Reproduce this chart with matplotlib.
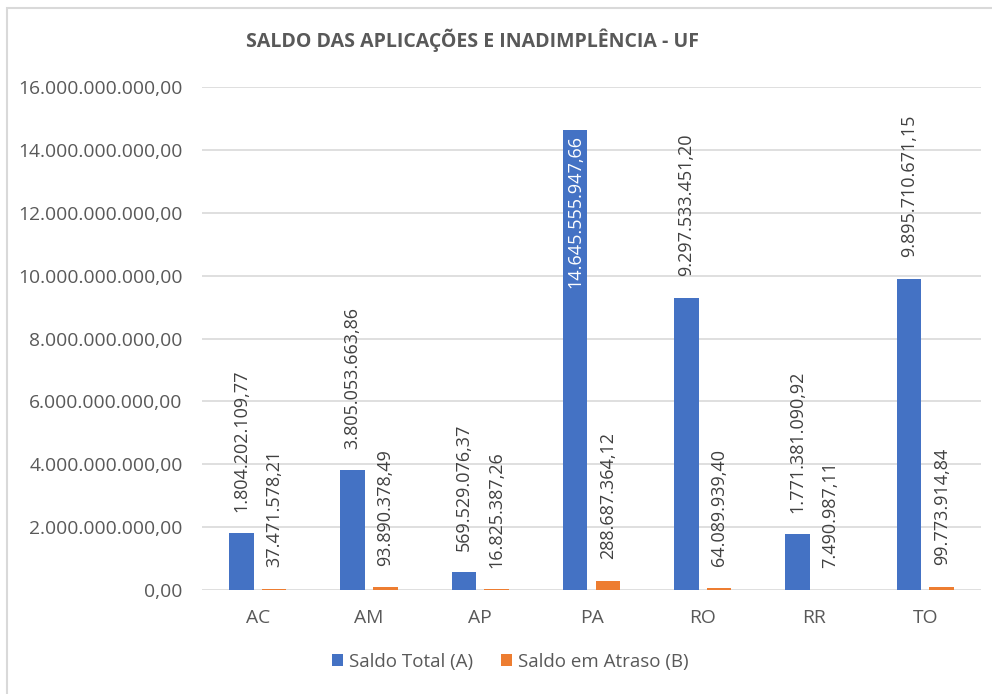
import numpy as np
import matplotlib.pyplot as plt
from matplotlib.patches import Rectangle

# dados do grafico
ufs = ["AC", "AM", "AP", "PA", "RO", "RR", "TO"]
saldo_total = [1804202109.77, 3805053663.86, 569529076.37, 14645555947.66,
               9297533451.20, 1771381090.92, 9895710671.15]
saldo_atraso = [37471578.21, 93890378.49, 16825387.26, 288687364.12,
                64089939.40, 7490987.11, 99773914.84]
rotulo_total = ["1.804.202.109,77", "3.805.053.663,86", "569.529.076,37",
                "14.645.555.947,66", "9.297.533.451,20", "1.771.381.090,92",
                "9.895.710.671,15"]
rotulo_atraso = ["37.471.578,21", "93.890.378,49", "16.825.387,26",
                 "288.687.364,12", "64.089.939,40", "7.490.987,11",
                 "99.773.914,84"]
yticks = [0, 2e9, 4e9, 6e9, 8e9, 10e9, 12e9, 14e9, 16e9]
ytick_labels = ["0,00", "2.000.000.000,00", "4.000.000.000,00",
                "6.000.000.000,00", "8.000.000.000,00", "10.000.000.000,00",
                "12.000.000.000,00", "14.000.000.000,00", "16.000.000.000,00"]

plt.rcParams['font.family'] = ['Open Sans', 'DejaVu Sans']
cinza = '#595959'
azul = '#4472C4'
laranja = '#ED7D31'

fig = plt.figure(figsize=(9.92, 6.94), dpi=100)
ax = fig.add_axes([202 / 992, 1 - 590 / 694, (981 - 202) / 992, (590 - 87) / 694])

x = np.arange(len(ufs))
w = 0.22
off = 0.147
b1 = ax.bar(x - off, saldo_total, w, color=azul, label="Saldo Total (A)", zorder=3)
b2 = ax.bar(x + off, saldo_atraso, w, color=laranja, label="Saldo em Atraso (B)", zorder=3)

# rotulos das barras
for i in range(len(ufs)):
    if saldo_total[i] > 14e9:
        ax.annotate(rotulo_total[i], (x[i] - off, saldo_total[i]), xytext=(0, -4),
                    textcoords='offset points', rotation=90, ha='center', va='top',
                    color='white', fontsize=13)
    else:
        ax.annotate(rotulo_total[i], (x[i] - off, saldo_total[i]), xytext=(0, 15.5),
                    textcoords='offset points', rotation=90, ha='center', va='bottom',
                    color='#404040', fontsize=13)
    ax.annotate(rotulo_atraso[i], (x[i] + off, saldo_atraso[i]), xytext=(0, 15.5),
                textcoords='offset points', rotation=90, ha='center', va='bottom',
                color='#404040', fontsize=13)

ax.set_xlim(-0.5, len(ufs) - 0.5)
ax.set_ylim(0, 16e9)
ax.set_yticks(yticks)
ax.set_yticklabels(ytick_labels)
ax.set_xticks(x)
ax.set_xticklabels(ufs)
ax.tick_params(axis='y', length=0, pad=14, labelsize=13.9, labelcolor=cinza)
ax.tick_params(axis='x', length=0, pad=14, labelsize=13.9, labelcolor=cinza)
ax.grid(axis='y', color='#d9d9d9', linewidth=1.2, zorder=0)
for s in ax.spines.values():
    s.set_visible(False)

fig.text(473 / 992, 1 - 40 / 694, "SALDO DAS APLICAÇÕES E INADIMPLÊNCIA - UF",
         ha='center', va='center', fontsize=14, fontweight='bold', color=cinza)

fig.legend(handles=[b1, b2], loc='center', bbox_to_anchor=(510 / 992, 1 - 662 / 694),
           ncol=2, frameon=False, fontsize=13.5, labelcolor=cinza, handlelength=0.6,
           handleheight=0.6, handletextpad=0.3, columnspacing=1.5)

# borda do grafico
fig.patches.append(Rectangle((7 / 992, -0.05), 1.1, 1 - 8 / 694 + 0.05,
                             transform=fig.transFigure, fill=False,
                             edgecolor='#d9d9d9', linewidth=1.5))

fig.savefig("out.png", dpi=100)
